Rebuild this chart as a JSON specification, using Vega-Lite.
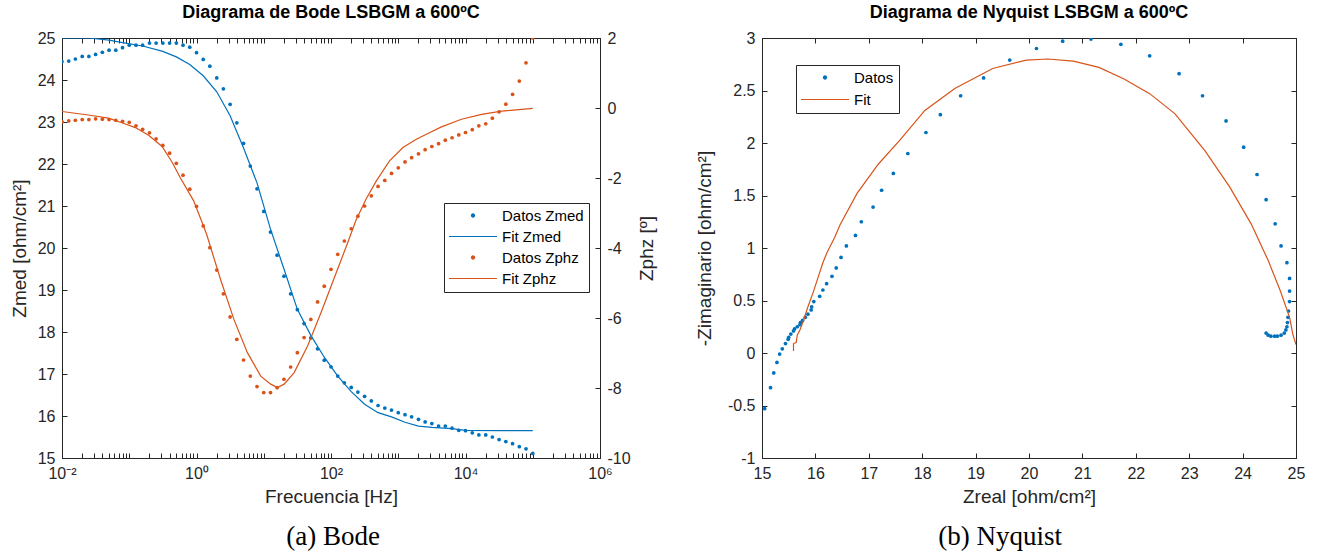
{
  "$schema": "https://vega.github.io/schema/vega-lite/v6.json",
  "background": "white",
  "padding": {"left": 9, "right": 5, "top": 3, "bottom": 5},
  "spacing": 37,
  "config": {
    "view": {"stroke": "#262626", "strokeWidth": 1},
    "axis": {
      "labelFont": "Liberation Sans", "labelFontSize": 16, "labelColor": "#262626",
      "titleFont": "Liberation Sans", "titleFontSize": 19, "titleFontWeight": "normal", "titleColor": "#262626",
      "tickColor": "#262626", "domainColor": "#262626", "tickSize": -5, "labelPadding": 12,
      "grid": false, "labelFlush": false, "labelOverlap": false
    },
    "title": {"font": "Liberation Sans", "fontSize": 18, "fontWeight": "bold", "color": "#000000", "offset": 8}
  },
  "datasets": {
    "bode": [
      {"f": 0.01, "zmed": 24.44, "zphz": -0.39},
      {"f": 0.0126, "zmed": 24.45, "zphz": -0.37},
      {"f": 0.0158, "zmed": 24.50, "zphz": -0.35},
      {"f": 0.02, "zmed": 24.56, "zphz": -0.33},
      {"f": 0.0251, "zmed": 24.56, "zphz": -0.33},
      {"f": 0.0316, "zmed": 24.61, "zphz": -0.31},
      {"f": 0.0398, "zmed": 24.66, "zphz": -0.32},
      {"f": 0.0501, "zmed": 24.71, "zphz": -0.33},
      {"f": 0.0631, "zmed": 24.71, "zphz": -0.35},
      {"f": 0.0794, "zmed": 24.77, "zphz": -0.38},
      {"f": 0.1, "zmed": 24.83, "zphz": -0.41},
      {"f": 0.126, "zmed": 24.83, "zphz": -0.51},
      {"f": 0.158, "zmed": 24.83, "zphz": -0.61},
      {"f": 0.2, "zmed": 24.88, "zphz": -0.71},
      {"f": 0.251, "zmed": 24.88, "zphz": -0.88},
      {"f": 0.316, "zmed": 24.88, "zphz": -1.07},
      {"f": 0.398, "zmed": 24.88, "zphz": -1.29},
      {"f": 0.501, "zmed": 24.88, "zphz": -1.58},
      {"f": 0.631, "zmed": 24.83, "zphz": -1.92},
      {"f": 0.794, "zmed": 24.78, "zphz": -2.32},
      {"f": 1, "zmed": 24.65, "zphz": -2.81},
      {"f": 1.26, "zmed": 24.49, "zphz": -3.37},
      {"f": 1.58, "zmed": 24.33, "zphz": -3.99},
      {"f": 2, "zmed": 24.05, "zphz": -4.63},
      {"f": 2.51, "zmed": 23.79, "zphz": -5.31},
      {"f": 3.16, "zmed": 23.42, "zphz": -5.97},
      {"f": 3.98, "zmed": 22.98, "zphz": -6.61},
      {"f": 5.01, "zmed": 22.49, "zphz": -7.20},
      {"f": 6.31, "zmed": 21.95, "zphz": -7.66},
      {"f": 7.94, "zmed": 21.41, "zphz": -7.96},
      {"f": 10, "zmed": 20.87, "zphz": -8.13},
      {"f": 12.6, "zmed": 20.38, "zphz": -8.13},
      {"f": 15.8, "zmed": 19.83, "zphz": -7.99},
      {"f": 20, "zmed": 19.33, "zphz": -7.75},
      {"f": 25.1, "zmed": 18.91, "zphz": -7.40},
      {"f": 31.6, "zmed": 18.53, "zphz": -6.99},
      {"f": 39.8, "zmed": 18.20, "zphz": -6.56},
      {"f": 50.1, "zmed": 17.86, "zphz": -6.04},
      {"f": 63.1, "zmed": 17.60, "zphz": -5.54},
      {"f": 79.4, "zmed": 17.33, "zphz": -5.09},
      {"f": 100, "zmed": 17.17, "zphz": -4.61},
      {"f": 126, "zmed": 16.95, "zphz": -4.18},
      {"f": 158, "zmed": 16.79, "zphz": -3.80},
      {"f": 200, "zmed": 16.68, "zphz": -3.45},
      {"f": 251, "zmed": 16.57, "zphz": -3.09},
      {"f": 316, "zmed": 16.47, "zphz": -2.80},
      {"f": 398, "zmed": 16.36, "zphz": -2.51},
      {"f": 501, "zmed": 16.25, "zphz": -2.24},
      {"f": 631, "zmed": 16.19, "zphz": -2.07},
      {"f": 794, "zmed": 16.14, "zphz": -1.87},
      {"f": 1000, "zmed": 16.08, "zphz": -1.71},
      {"f": 1260, "zmed": 16.03, "zphz": -1.54},
      {"f": 1580, "zmed": 15.98, "zphz": -1.42},
      {"f": 2000, "zmed": 15.92, "zphz": -1.31},
      {"f": 2510, "zmed": 15.86, "zphz": -1.19},
      {"f": 3160, "zmed": 15.82, "zphz": -1.10},
      {"f": 3980, "zmed": 15.76, "zphz": -1.02},
      {"f": 5010, "zmed": 15.76, "zphz": -0.92},
      {"f": 6310, "zmed": 15.71, "zphz": -0.85},
      {"f": 7940, "zmed": 15.66, "zphz": -0.77},
      {"f": 10000, "zmed": 15.65, "zphz": -0.70},
      {"f": 12600, "zmed": 15.60, "zphz": -0.62},
      {"f": 15800, "zmed": 15.55, "zphz": -0.51},
      {"f": 20000, "zmed": 15.55, "zphz": -0.45},
      {"f": 25100, "zmed": 15.50, "zphz": -0.29},
      {"f": 31600, "zmed": 15.44, "zphz": -0.11},
      {"f": 39800, "zmed": 15.39, "zphz": 0.11},
      {"f": 50100, "zmed": 15.34, "zphz": 0.39},
      {"f": 63100, "zmed": 15.27, "zphz": 0.77},
      {"f": 79400, "zmed": 15.22, "zphz": 1.29},
      {"f": 100000, "zmed": 15.11, "zphz": 2.0}
    ],
    "fitZmed": [
      {"f": 0.01, "zmed": 25.0},
      {"f": 0.0251, "zmed": 25.0},
      {"f": 0.0501, "zmed": 24.95},
      {"f": 0.0794, "zmed": 24.89},
      {"f": 0.158, "zmed": 24.81},
      {"f": 0.316, "zmed": 24.68},
      {"f": 0.501, "zmed": 24.55},
      {"f": 0.794, "zmed": 24.37},
      {"f": 1.26, "zmed": 24.10},
      {"f": 2, "zmed": 23.72},
      {"f": 3.16, "zmed": 23.15},
      {"f": 5.01, "zmed": 22.38},
      {"f": 7.94, "zmed": 21.55},
      {"f": 12.6, "zmed": 20.45},
      {"f": 20, "zmed": 19.50},
      {"f": 31.6, "zmed": 18.54},
      {"f": 50.1, "zmed": 17.92},
      {"f": 79.4, "zmed": 17.40},
      {"f": 126, "zmed": 16.95},
      {"f": 200, "zmed": 16.58},
      {"f": 316, "zmed": 16.28},
      {"f": 501, "zmed": 16.08},
      {"f": 794, "zmed": 15.98},
      {"f": 1260, "zmed": 15.85},
      {"f": 2000, "zmed": 15.76},
      {"f": 3160, "zmed": 15.73},
      {"f": 6310, "zmed": 15.70},
      {"f": 10000, "zmed": 15.66},
      {"f": 31600, "zmed": 15.65},
      {"f": 100000, "zmed": 15.65}
    ],
    "fitZphz": [
      {"f": 0.01, "zphz": -0.10},
      {"f": 0.0247, "zphz": -0.20},
      {"f": 0.0491, "zphz": -0.29},
      {"f": 0.0778, "zphz": -0.42},
      {"f": 0.123, "zphz": -0.56},
      {"f": 0.194, "zphz": -0.78},
      {"f": 0.308, "zphz": -1.10},
      {"f": 0.434, "zphz": -1.55},
      {"f": 0.577, "zphz": -2.0},
      {"f": 0.912, "zphz": -2.66},
      {"f": 1.41, "zphz": -3.6},
      {"f": 2.28, "zphz": -4.90},
      {"f": 3.60, "zphz": -6.04},
      {"f": 5.71, "zphz": -6.99},
      {"f": 9.02, "zphz": -7.66},
      {"f": 12.7, "zphz": -7.89},
      {"f": 16.0, "zphz": -7.99},
      {"f": 20.1, "zphz": -7.89},
      {"f": 28.3, "zphz": -7.56},
      {"f": 44.9, "zphz": -6.80},
      {"f": 70.9, "zphz": -5.85},
      {"f": 112, "zphz": -4.85},
      {"f": 177, "zphz": -3.85},
      {"f": 236, "zphz": -3.2},
      {"f": 333, "zphz": -2.6},
      {"f": 470, "zphz": -2.09},
      {"f": 741, "zphz": -1.51},
      {"f": 1175, "zphz": -1.13},
      {"f": 1857, "zphz": -0.89},
      {"f": 2805, "zphz": -0.72},
      {"f": 4385, "zphz": -0.54},
      {"f": 8710, "zphz": -0.32},
      {"f": 17340, "zphz": -0.18},
      {"f": 34440, "zphz": -0.09},
      {"f": 100000, "zphz": -0.01}
    ],
    "nyq": [
      {"zr": 15.05, "zi": -0.53}, {"zr": 15.16, "zi": -0.33}, {"zr": 15.22, "zi": -0.19},
      {"zr": 15.28, "zi": -0.09}, {"zr": 15.33, "zi": -0.01}, {"zr": 15.38, "zi": 0.04},
      {"zr": 15.44, "zi": 0.09}, {"zr": 15.49, "zi": 0.13}, {"zr": 15.50, "zi": 0.15},
      {"zr": 15.54, "zi": 0.18}, {"zr": 15.59, "zi": 0.21}, {"zr": 15.61, "zi": 0.23},
      {"zr": 15.66, "zi": 0.25}, {"zr": 15.71, "zi": 0.27}, {"zr": 15.72, "zi": 0.29},
      {"zr": 15.76, "zi": 0.31}, {"zr": 15.81, "zi": 0.34}, {"zr": 15.86, "zi": 0.37},
      {"zr": 15.92, "zi": 0.41}, {"zr": 15.93, "zi": 0.44}, {"zr": 15.97, "zi": 0.49},
      {"zr": 16.08, "zi": 0.54}, {"zr": 16.14, "zi": 0.60}, {"zr": 16.21, "zi": 0.66},
      {"zr": 16.31, "zi": 0.73}, {"zr": 16.39, "zi": 0.81}, {"zr": 16.48, "zi": 0.91},
      {"zr": 16.58, "zi": 1.02}, {"zr": 16.75, "zi": 1.12}, {"zr": 16.86, "zi": 1.25},
      {"zr": 17.08, "zi": 1.39}, {"zr": 17.24, "zi": 1.55}, {"zr": 17.46, "zi": 1.71},
      {"zr": 17.73, "zi": 1.90}, {"zr": 18.07, "zi": 2.10}, {"zr": 18.34, "zi": 2.27},
      {"zr": 18.72, "zi": 2.45}, {"zr": 19.15, "zi": 2.62}, {"zr": 19.64, "zi": 2.79},
      {"zr": 20.14, "zi": 2.90}, {"zr": 20.63, "zi": 2.97}, {"zr": 21.16, "zi": 2.99},
      {"zr": 21.72, "zi": 2.94}, {"zr": 22.26, "zi": 2.83}, {"zr": 22.81, "zi": 2.66},
      {"zr": 23.25, "zi": 2.45}, {"zr": 23.69, "zi": 2.21}, {"zr": 24.02, "zi": 1.96},
      {"zr": 24.27, "zi": 1.70}, {"zr": 24.44, "zi": 1.46}, {"zr": 24.61, "zi": 1.23},
      {"zr": 24.72, "zi": 1.02}, {"zr": 24.83, "zi": 0.86}, {"zr": 24.88, "zi": 0.71},
      {"zr": 24.88, "zi": 0.59}, {"zr": 24.88, "zi": 0.49}, {"zr": 24.86, "zi": 0.40},
      {"zr": 24.85, "zi": 0.34}, {"zr": 24.84, "zi": 0.29}, {"zr": 24.83, "zi": 0.25},
      {"zr": 24.81, "zi": 0.22}, {"zr": 24.78, "zi": 0.19}, {"zr": 24.72, "zi": 0.17},
      {"zr": 24.65, "zi": 0.16}, {"zr": 24.60, "zi": 0.16}, {"zr": 24.53, "zi": 0.16},
      {"zr": 24.48, "zi": 0.17}, {"zr": 24.44, "zi": 0.19}
    ],
    "nyqFit": [
      {"i": 0, "zr": 15.59, "zi": 0.02}, {"i": 1, "zr": 15.59, "zi": 0.09},
      {"i": 2, "zr": 15.64, "zi": 0.10}, {"i": 3, "zr": 15.66, "zi": 0.17},
      {"i": 4, "zr": 15.71, "zi": 0.22}, {"i": 5, "zr": 15.77, "zi": 0.30},
      {"i": 6, "zr": 15.86, "zi": 0.44}, {"i": 7, "zr": 15.96, "zi": 0.58},
      {"i": 8, "zr": 16.05, "zi": 0.72}, {"i": 9, "zr": 16.14, "zi": 0.86},
      {"i": 10, "zr": 16.22, "zi": 0.96}, {"i": 11, "zr": 16.36, "zi": 1.10},
      {"i": 12, "zr": 16.46, "zi": 1.22}, {"i": 13, "zr": 16.78, "zi": 1.52},
      {"i": 14, "zr": 17.18, "zi": 1.80}, {"i": 15, "zr": 17.57, "zi": 2.02},
      {"i": 16, "zr": 18.05, "zi": 2.31}, {"i": 17, "zr": 18.61, "zi": 2.52},
      {"i": 18, "zr": 19.32, "zi": 2.71}, {"i": 19, "zr": 19.95, "zi": 2.79},
      {"i": 20, "zr": 20.35, "zi": 2.80}, {"i": 21, "zr": 20.83, "zi": 2.78},
      {"i": 22, "zr": 21.31, "zi": 2.72}, {"i": 23, "zr": 21.78, "zi": 2.61},
      {"i": 24, "zr": 22.26, "zi": 2.47}, {"i": 25, "zr": 22.73, "zi": 2.28},
      {"i": 26, "zr": 23.29, "zi": 1.93}, {"i": 27, "zr": 23.76, "zi": 1.58},
      {"i": 28, "zr": 24.16, "zi": 1.23}, {"i": 29, "zr": 24.48, "zi": 0.88},
      {"i": 30, "zr": 24.70, "zi": 0.60}, {"i": 31, "zr": 24.88, "zi": 0.34},
      {"i": 32, "zr": 24.94, "zi": 0.18}, {"i": 33, "zr": 25.0, "zi": 0.08}
    ]
  },
  "resolve": {"scale": {"color": "independent"}, "legend": {"color": "independent"}},
  "hconcat": [
    {
      "title": {"text": "(a) Bode", "orient": "bottom", "anchor": "middle", "font": "Liberation Serif", "fontSize": 27, "fontWeight": "normal", "color": "#000000", "offset": 17},
      "resolve": {"scale": {"color": "independent"}, "legend": {"color": "independent"}},
      "vconcat": [
        {
          "title": {"text": "Diagrama de Bode LSBGM a 600ºC"},
          "width": 538,
          "height": 420,
          "resolve": {"scale": {"y": "independent"}, "axis": {"x": "independent", "y": "independent"}},
          "layer": [
            {
              "data": {"name": "bode"},
              "mark": {"type": "circle", "size": 14, "opacity": 1, "clip": true},
              "encoding": {
                "x": {"field": "f", "type": "quantitative",
                  "scale": {"type": "log", "domain": [0.01, 1000000], "nice": false},
                  "axis": {"orient": "bottom", "title": "Frecuencia [Hz]", "titlePadding": 6,
                    "values": [0.01,0.02,0.03,0.04,0.05,0.06,0.07,0.08,0.09,0.1,0.2,0.3,0.4,0.5,0.6,0.7,0.8,0.9,1,2,3,4,5,6,7,8,9,10,20,30,40,50,60,70,80,90,100,200,300,400,500,600,700,800,900,1000,2000,3000,4000,5000,6000,7000,8000,9000,10000,20000,30000,40000,50000,60000,70000,80000,90000,100000,200000,300000,400000,500000,600000,700000,800000,900000,1000000],
                    "labelExpr": "datum.value==0.01?'10⁻²':datum.value==1?'10⁰':datum.value==100?'10²':datum.value==10000?'10⁴':datum.value==1000000?'10⁶':''"}},
                "y": {"field": "zmed", "type": "quantitative",
                  "scale": {"domain": [15, 25], "nice": false, "zero": false},
                  "axis": {"orient": "left", "title": "Zmed [ohm/cm²]", "values": [15,16,17,18,19,20,21,22,23,24,25], "labelExpr": "''+datum.value", "titlePadding": 8}},
                "color": {"datum": "Datos Zmed", "type": "nominal",
                  "scale": {"domain": ["Datos Zmed", "Fit Zmed", "Datos Zphz", "Fit Zphz"], "range": ["#0072BD", "#0072BD", "#D95319", "#D95319"]},
                  "legend": {
                    "orient": "none", "legendX": 382, "legendY": 165, "title": null, "direction": "vertical",
                    "padding": 5, "strokeColor": "#262626", "fillColor": "#ffffff",
                    "labelFont": "Liberation Sans", "labelFontSize": 15, "labelColor": "#000000",
                    "labelOffset": 5, "symbolSize": 2304, "clipHeight": 15, "rowPadding": 5, "symbolStrokeWidth": 0,
                    "symbolOpacity": 1,
                    "symbolType": {"expr": "indexof(datum.value,'Datos')==0 ? 'M-0.09,0A0.09,0.09,0,1,1,0.09,0A0.09,0.09,0,1,1,-0.09,0Z' : 'M-1,-0.026L1,-0.026L1,0.026L-1,0.026Z'"},
                    "symbolFillColor": {"expr": "indexof(datum.value,'Zphz')>=0 ? '#D95319' : '#0072BD'"}
                  }}
              }
            },
            {
              "data": {"name": "fitZmed"},
              "mark": {"type": "line", "strokeWidth": 1.2, "clip": true},
              "encoding": {
                "x": {"field": "f", "type": "quantitative",
                  "scale": {"type": "log", "domain": [0.01, 1000000], "nice": false},
                  "axis": {"orient": "top", "title": null, "labels": false, "domain": false,
                    "values": [0.01,0.02,0.03,0.04,0.05,0.06,0.07,0.08,0.09,0.1,0.2,0.3,0.4,0.5,0.6,0.7,0.8,0.9,1,2,3,4,5,6,7,8,9,10,20,30,40,50,60,70,80,90,100,200,300,400,500,600,700,800,900,1000,2000,3000,4000,5000,6000,7000,8000,9000,10000,20000,30000,40000,50000,60000,70000,80000,90000,100000,200000,300000,400000,500000,600000,700000,800000,900000,1000000]}},
                "y": {"field": "zmed", "type": "quantitative", "scale": {"domain": [15, 25], "nice": false, "zero": false}, "axis": null},
                "color": {"datum": "Fit Zmed", "type": "nominal"}
              }
            },
            {
              "data": {"name": "bode"},
              "mark": {"type": "circle", "size": 14, "opacity": 1, "clip": true},
              "encoding": {
                "x": {"field": "f", "type": "quantitative", "scale": {"type": "log", "domain": [0.01, 1000000], "nice": false}, "axis": null},
                "y": {"field": "zphz", "type": "quantitative",
                  "scale": {"domain": [-10, 2], "nice": false, "zero": false},
                  "axis": {"orient": "right", "title": "Zphz [º]", "titleAngle": 270, "values": [-10,-8,-6,-4,-2,0,2], "labelExpr": "''+datum.value", "titlePadding": 26}},
                "color": {"datum": "Datos Zphz", "type": "nominal"}
              }
            },
            {
              "data": {"name": "fitZphz"},
              "mark": {"type": "line", "strokeWidth": 1.2, "clip": true},
              "encoding": {
                "x": {"field": "f", "type": "quantitative", "scale": {"type": "log", "domain": [0.01, 1000000], "nice": false}, "axis": null},
                "y": {"field": "zphz", "type": "quantitative", "scale": {"domain": [-10, 2], "nice": false, "zero": false}, "axis": null},
                "color": {"datum": "Fit Zphz", "type": "nominal"}
              }
            }
          ]
        }
      ]
    },
    {
      "title": {"text": "(b) Nyquist", "orient": "bottom", "anchor": "middle", "font": "Liberation Serif", "fontSize": 27, "fontWeight": "normal", "color": "#000000", "offset": 17},
      "resolve": {"scale": {"color": "independent"}, "legend": {"color": "independent"}},
      "vconcat": [
        {
          "title": {"text": "Diagrama de Nyquist LSBGM a 600ºC"},
          "width": 534,
          "height": 420,
          "resolve": {"axis": {"x": "independent", "y": "independent"}},
          "layer": [
            {
              "data": {"name": "nyq"},
              "mark": {"type": "circle", "size": 14, "opacity": 1, "clip": true},
              "encoding": {
                "x": {"field": "zr", "type": "quantitative",
                  "scale": {"domain": [15, 25], "nice": false, "zero": false},
                  "axis": {"orient": "bottom", "title": "Zreal [ohm/cm²]", "values": [15,16,17,18,19,20,21,22,23,24,25], "labelExpr": "''+datum.value", "titlePadding": 6}},
                "y": {"field": "zi", "type": "quantitative",
                  "scale": {"domain": [-1, 3], "nice": false, "zero": false},
                  "axis": {"orient": "left", "title": "-Zimaginario [ohm/cm²]", "values": [-1,-0.5,0,0.5,1,1.5,2,2.5,3], "labelExpr": "''+datum.value", "titlePadding": 13}},
                "color": {"datum": "Datos", "type": "nominal",
                  "scale": {"domain": ["Datos", "Fit"], "range": ["#0072BD", "#D95319"]},
                  "legend": {
                    "orient": "none", "legendX": 34, "legendY": 27, "title": null, "direction": "vertical",
                    "padding": 5, "strokeColor": "#262626", "fillColor": "#ffffff",
                    "labelFont": "Liberation Sans", "labelFontSize": 15, "labelColor": "#000000",
                    "labelOffset": 5, "symbolSize": 2304, "clipHeight": 15, "rowPadding": 6, "symbolStrokeWidth": 0,
                    "symbolOpacity": 1,
                    "symbolType": {"expr": "datum.value=='Datos' ? 'M-0.09,0A0.09,0.09,0,1,1,0.09,0A0.09,0.09,0,1,1,-0.09,0Z' : 'M-1,-0.026L1,-0.026L1,0.026L-1,0.026Z'"},
                    "symbolFillColor": {"expr": "datum.value=='Fit' ? '#D95319' : '#0072BD'"}
                  }}
              }
            },
            {
              "data": {"name": "nyqFit"},
              "mark": {"type": "line", "strokeWidth": 1.2, "clip": true},
              "encoding": {
                "x": {"field": "zr", "type": "quantitative",
                  "scale": {"domain": [15, 25], "nice": false, "zero": false},
                  "axis": {"orient": "top", "title": null, "labels": false, "domain": false, "values": [15,16,17,18,19,20,21,22,23,24,25]}},
                "y": {"field": "zi", "type": "quantitative",
                  "scale": {"domain": [-1, 3], "nice": false, "zero": false},
                  "axis": {"orient": "right", "title": null, "labels": false, "domain": false, "values": [-1,-0.5,0,0.5,1,1.5,2,2.5,3]}},
                "order": {"field": "i", "type": "quantitative"},
                "color": {"datum": "Fit", "type": "nominal"}
              }
            }
          ]
        }
      ]
    }
  ]
}
